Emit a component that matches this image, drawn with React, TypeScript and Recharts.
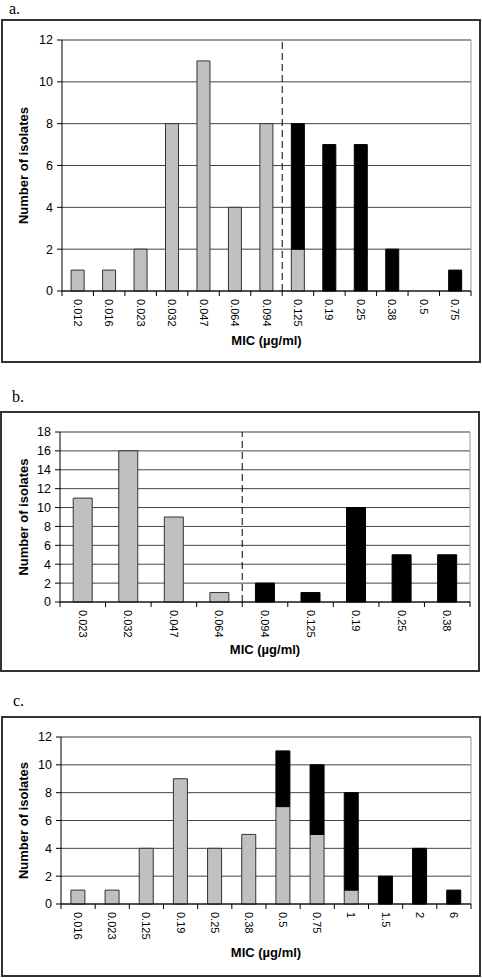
import React from 'react';
import {
  Bar,
  BarChart,
  CartesianGrid,
  Label,
  ReferenceLine,
  XAxis,
  YAxis,
} from 'recharts';

// panel a
const micA = ['0.012', '0.016', '0.023', '0.032', '0.047', '0.064', '0.094', '0.125', '0.19', '0.25', '0.38', '0.5', '0.75'];
const lowA = [1, 1, 2, 8, 11, 4, 8, 2, 0, 0, 0, 0, 0];
const highA = [0, 0, 0, 0, 0, 0, 0, 6, 7, 7, 2, 0, 1];
const ticksA = [0, 2, 4, 6, 8, 10, 12];

// panel b
const micB = ['0.023', '0.032', '0.047', '0.064', '0.094', '0.125', '0.19', '0.25', '0.38'];
const lowB = [11, 16, 9, 1, 0, 0, 0, 0, 0];
const highB = [0, 0, 0, 0, 2, 1, 10, 5, 5];
const ticksB = [0, 2, 4, 6, 8, 10, 12, 14, 16, 18];

// panel c
const micC = ['0.016', '0.023', '0.125', '0.19', '0.25', '0.38', '0.5', '0.75', '1', '1.5', '2', '6'];
const lowC = [1, 1, 4, 9, 4, 5, 7, 5, 1, 0, 0, 0];
const highC = [0, 0, 0, 0, 0, 0, 4, 5, 7, 2, 4, 1];
const ticksC = [0, 2, 4, 6, 8, 10, 12];

const FONT = 'Liberation Sans, Arial, sans-serif';
const CHART_W = 476;

interface PanelProps {
  letter: string;
  letterTop: number;
  letterLeft: number;
  left: number;
  top: number;
  height: number;
  yWidth: number;
  xHeight: number;
  yLabelDx: number;
  micOffset: number;
  mic: string[];
  low: number[];
  high: number[];
  ticks: number[];
  breakpoint?: string;
}

const MicTick = (props: any) => {
  const { x, y, payload, index, band, count } = props;
  return (
    <g>
      <line x1={x - band / 2} y1={y} x2={x - band / 2} y2={y + 5} stroke="#000" />
      {index === count - 1 && (
        <line x1={x + band / 2} y1={y} x2={x + band / 2} y2={y + 5} stroke="#000" />
      )}
      <text
        transform={`translate(${x},${y + 8}) rotate(90)`}
        textAnchor="start"
        dominantBaseline="central"
        fontSize={11}
        fontFamily={FONT}
        fill="#000"
      >
        {payload.value}
      </text>
    </g>
  );
};

const Panel = (p: PanelProps) => {
  const data = p.mic.map((mic, i) => ({ mic, low: p.low[i], high: p.high[i] }));
  const margin = { top: 19, right: 8, left: 0, bottom: 0 };
  const band = (CHART_W - margin.right - p.yWidth) / p.mic.length;
  const yMax = p.ticks[p.ticks.length - 1];
  return (
    <>
      <div
        style={{
          position: 'absolute',
          left: p.letterLeft,
          top: p.letterTop,
          fontFamily: '"Liberation Serif", "Times New Roman", serif',
          fontSize: 16,
          lineHeight: 'normal',
        }}
      >
        {p.letter}
      </div>
      <div
        style={{
          position: 'absolute',
          left: p.left,
          top: p.top,
          width: 480,
          height: p.height,
          boxSizing: 'border-box',
          border: '2px solid #333',
          background: '#fff',
          fontFamily: FONT,
        }}
      >
        <BarChart
          width={CHART_W}
          height={p.height - 4}
          data={data}
          margin={margin}
          barCategoryGap="29%"
        >
          <CartesianGrid vertical={false} stroke="#444" />
          <XAxis
            dataKey="mic"
            interval={0}
            height={p.xHeight}
            tickSize={0}
            tickMargin={0}
            axisLine={{ stroke: '#000' }}
            tickLine={false}
            tick={<MicTick band={band} count={p.mic.length} />}
          >
            <Label
              value="MIC (µg/ml)"
              position="insideTop"
              offset={p.micOffset}
              fontSize={13}
              fontWeight="bold"
              fontFamily={FONT}
              fill="#000"
            />
          </XAxis>
          <YAxis
            type="number"
            domain={[0, yMax]}
            ticks={p.ticks}
            interval={0}
            width={p.yWidth}
            tickSize={5}
            tickMargin={4}
            axisLine={{ stroke: '#000' }}
            tickLine={{ stroke: '#000' }}
            tick={{ fontSize: 12.5, fill: '#000', fontFamily: FONT }}
          >
            <Label
              value="Number of isolates"
              angle={-90}
              position="center"
              dx={p.yLabelDx}
              fontSize={13}
              fontWeight="bold"
              fontFamily={FONT}
              fill="#000"
            />
          </YAxis>
          <ReferenceLine y={yMax} stroke="#999" />
          <ReferenceLine x={p.mic[p.mic.length - 1]} position="end" stroke="#999" />
          <Bar dataKey="low" stackId="s" fill="#c0c0c0" stroke="#333" strokeWidth={1} isAnimationActive={false} />
          <Bar dataKey="high" stackId="s" fill="#000" stroke="#000" strokeWidth={1} isAnimationActive={false} />
          {p.breakpoint && (
            <ReferenceLine
              x={p.breakpoint}
              position="start"
              stroke="#000"
              strokeDasharray="7 4"
              ifOverflow="visible"
            />
          )}
        </BarChart>
      </div>
    </>
  );
};

export default function App() {
  return (
    <div style={{ position: 'absolute', left: 0, top: 0, width: 482, height: 978, background: '#fff' }}>
      <Panel
        letter="a." letterLeft={9} letterTop={0}
        left={1} top={19} height={344}
        yWidth={59} xHeight={70} yLabelDx={-9} micOffset={45}
        mic={micA} low={lowA} high={highA} ticks={ticksA} breakpoint="0.125"
      />
      <Panel
        letter="b." letterLeft={12} letterTop={388}
        left={0} top={411} height={261}
        yWidth={58} xHeight={68} yLabelDx={-8} micOffset={43}
        mic={micB} low={lowB} high={highB} ticks={ticksB} breakpoint="0.094"
      />
      <Panel
        letter="c." letterLeft={13} letterTop={692}
        left={1} top={716} height={261}
        yWidth={58} xHeight={71} yLabelDx={-9} micOffset={44}
        mic={micC} low={lowC} high={highC} ticks={ticksC}
      />
    </div>
  );
}
